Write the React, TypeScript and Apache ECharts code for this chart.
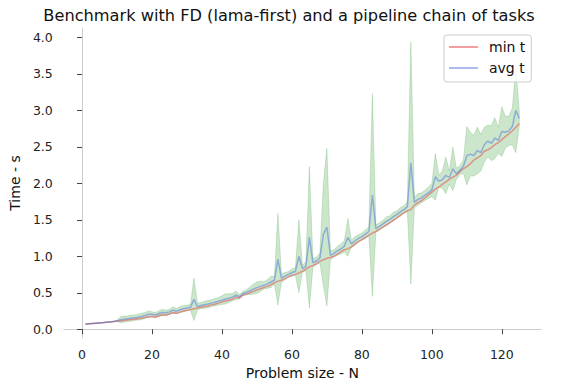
import React, { useEffect, useRef } from "react";
import * as echarts from "echarts";

const TITLE = "Benchmark with FD (lama-first) and a pipeline chain of tasks";
const X_LABEL = "Problem size - N";
const Y_LABEL = "Time - s";
const X_TICKS = [0, 20, 40, 60, 80, 100, 120];
const Y_TICKS = [0, 0.5, 1, 1.5, 2, 2.5, 3, 3.5, 4];

// problem sizes 1..125
const sizes: number[] = Array.from({ length: 125 }, (_, i) => i + 1);

const minT = [
  0.070, 0.074, 0.078, 0.082, 0.086, 0.090, 0.095, 0.100, 0.105, 0.110,
  0.115, 0.120, 0.126, 0.132, 0.138, 0.144, 0.150, 0.160, 0.172, 0.175,
  0.165, 0.188, 0.200, 0.196, 0.210, 0.230, 0.218, 0.238, 0.250, 0.260,
  0.272, 0.282, 0.290, 0.302, 0.312, 0.320, 0.334, 0.344, 0.358, 0.372,
  0.386, 0.398, 0.412, 0.440, 0.428, 0.468, 0.482, 0.500, 0.520, 0.540,
  0.556, 0.572, 0.588, 0.610, 0.635, 0.660, 0.672, 0.695, 0.718, 0.740,
  0.752, 0.772, 0.795, 0.825, 0.855, 0.872, 0.898, 0.930, 0.952, 0.972,
  0.984, 1.000, 1.030, 1.060, 1.090, 1.102, 1.130, 1.168, 1.200, 1.230,
  1.258, 1.290, 1.318, 1.340, 1.370, 1.400, 1.430, 1.460, 1.495, 1.528,
  1.565, 1.595, 1.625, 1.640, 1.700, 1.735, 1.760, 1.800, 1.840, 1.880,
  1.920, 1.950, 1.985, 2.020, 2.055, 2.085, 2.110, 2.160, 2.200, 2.230,
  2.270, 2.320, 2.350, 2.380, 2.440, 2.460, 2.490, 2.530, 2.560, 2.600,
  2.640, 2.680, 2.720, 2.770, 2.820,
];

const avgT = [
  0.071, 0.075, 0.079, 0.083, 0.087, 0.091, 0.096, 0.101, 0.106, 0.115,
  0.130, 0.138, 0.145, 0.152, 0.158, 0.166, 0.175, 0.188, 0.205, 0.205,
  0.195, 0.215, 0.230, 0.225, 0.238, 0.262, 0.248, 0.268, 0.282, 0.292,
  0.300, 0.410, 0.310, 0.325, 0.335, 0.345, 0.358, 0.370, 0.384, 0.398,
  0.415, 0.425, 0.440, 0.466, 0.445, 0.490, 0.505, 0.528, 0.550, 0.570,
  0.588, 0.602, 0.622, 0.648, 0.672, 0.960, 0.702, 0.728, 0.752, 0.778,
  0.792, 1.000, 0.832, 0.862, 1.260, 0.912, 0.936, 0.976, 1.300, 1.400,
  1.012, 1.040, 1.075, 1.100, 1.140, 1.260, 1.170, 1.210, 1.245, 1.270,
  1.305, 1.340, 1.840, 1.380, 1.410, 1.445, 1.480, 1.505, 1.545, 1.575,
  1.610, 1.640, 1.680, 2.280, 1.740, 1.780, 1.800, 1.835, 1.870, 1.910,
  2.090, 2.030, 2.050, 2.110, 2.080, 2.200, 2.130, 2.180, 2.230, 2.380,
  2.400, 2.380, 2.450, 2.420, 2.530, 2.580, 2.550, 2.620, 2.590, 2.710,
  2.700, 2.720, 2.780, 3.000, 2.890,
];

// half-width of the shaded band around avg t
const stdT = [
  0.002, 0.002, 0.002, 0.002, 0.002, 0.002, 0.002, 0.002, 0.003, 0.006,
  0.040, 0.042, 0.038, 0.042, 0.038, 0.040, 0.045, 0.040, 0.045, 0.035,
  0.035, 0.040, 0.045, 0.035, 0.035, 0.045, 0.035, 0.045, 0.045, 0.040,
  0.040, 0.290, 0.050, 0.040, 0.050, 0.050, 0.045, 0.050, 0.050, 0.060,
  0.070, 0.060, 0.050, 0.060, 0.030, 0.030, 0.035, 0.050, 0.070, 0.080,
  0.070, 0.050, 0.060, 0.080, 0.050, 0.630, 0.060, 0.050, 0.040, 0.050,
  0.050, 0.500, 0.050, 0.060, 0.970, 0.060, 0.050, 0.070, 0.700, 1.080,
  0.060, 0.050, 0.060, 0.070, 0.080, 0.260, 0.050, 0.060, 0.050, 0.050,
  0.060, 0.060, 1.390, 0.050, 0.050, 0.050, 0.060, 0.050, 0.060, 0.050,
  0.060, 0.050, 0.070, 1.660, 0.070, 0.080, 0.070, 0.070, 0.080, 0.090,
  0.320, 0.080, 0.120, 0.250, 0.090, 0.300, 0.080, 0.060, 0.090, 0.400,
  0.300, 0.280, 0.320, 0.250, 0.240, 0.220, 0.240, 0.280, 0.180, 0.340,
  0.220, 0.200, 0.250, 0.580, 0.100,
];

const FONT = "DejaVu Sans";
const RED = "rgba(232,64,64,0.5)";
const BLUE = "rgba(65,105,225,0.45)";

export default function App() {
  const ref = useRef<HTMLDivElement>(null);

  useEffect(() => {
    if (!ref.current) return;
    const chart = echarts.init(ref.current, null, { renderer: "svg" });

    const bandData = sizes.map((n, i) => [n, avgT[i] - stdT[i], avgT[i] + stdT[i]]);
    const minData = sizes.map((n, i) => [n, minT[i]]);
    const avgData = sizes.map((n, i) => [n, avgT[i]]);

    chart.setOption({
      animation: false,
      backgroundColor: "#ffffff",
      grid: { left: 61, right: 22, top: 28, bottom: 52, containLabel: false },
      graphic: [
        {
          type: "text",
          x: 289,
          y: 15,
          style: {
            text: TITLE,
            font: `16.2px '${FONT}'`,
            fill: "#111111",
            textAlign: "center",
            textVerticalAlign: "middle",
          },
        },
      ],
      legend: {
        data: ["min t", "avg t"],
        orient: "vertical",
        left: 444,
        top: 35,
        padding: [5, 6, 7, 5],
        icon: "rect",
        itemWidth: 29,
        itemHeight: 2,
        itemGap: 7,
        backgroundColor: "rgba(255,255,255,0.85)",
        borderColor: "#cccccc",
        borderWidth: 1,
        borderRadius: 3,
        textStyle: {
          fontFamily: FONT,
          fontSize: 14,
          lineHeight: 14,
          color: "#111111",
          padding: [0, 0, 0, 6],
        },
      },
      xAxis: {
        type: "value",
        min: -5.2,
        max: 131.2,
        name: X_LABEL,
        nameLocation: "middle",
        nameGap: 28,
        nameTextStyle: { fontFamily: FONT, fontSize: 14, color: "#111111" },
        splitLine: { show: false },
        axisLine: { show: true, lineStyle: { color: "#cccccc", width: 1 } },
        axisTick: {
          show: true,
          length: 5,
          lineStyle: { color: "#444444" },
          customValues: X_TICKS,
        },
        axisLabel: {
          fontFamily: FONT,
          fontSize: 12.5,
          color: "#222222",
          margin: 10,
          customValues: X_TICKS,
          formatter: (v: number) => String(v),
        },
      },
      yAxis: {
        type: "value",
        min: -0.12,
        max: 4.13,
        name: Y_LABEL,
        nameLocation: "middle",
        nameGap: 37,
        nameRotate: 90,
        nameTextStyle: { fontFamily: FONT, fontSize: 14, color: "#111111" },
        splitLine: { show: false },
        axisLine: { show: true, lineStyle: { color: "#cccccc", width: 1 } },
        axisTick: {
          show: true,
          length: 5,
          lineStyle: { color: "#444444" },
          customValues: Y_TICKS,
        },
        axisLabel: {
          fontFamily: FONT,
          fontSize: 12.5,
          color: "#222222",
          margin: 11,
          customValues: Y_TICKS,
          formatter: (v: number) => v.toFixed(1),
        },
      },
      series: [
        {
          name: "band",
          type: "custom",
          data: bandData,
          encode: { x: 0, y: [1, 2] },
          silent: true,
          z: 1,
          renderItem: (params: any, api: any) => {
            if (params.dataIndex !== 0) return null;
            const upper = bandData.map((d) => api.coord([d[0], d[2]]));
            const lower = bandData.map((d) => api.coord([d[0], d[1]])).reverse();
            return {
              type: "polygon",
              shape: { points: upper.concat(lower) },
              style: {
                fill: "rgba(0,128,0,0.2)",
                stroke: "rgba(0,128,0,0.16)",
                lineWidth: 1,
              },
            };
          },
        },
        {
          name: "min t",
          type: "line",
          data: minData,
          symbol: "none",
          color: RED,
          lineStyle: { color: RED, width: 1.5 },
          z: 3,
        },
        {
          name: "avg t",
          type: "line",
          data: avgData,
          symbol: "none",
          color: BLUE,
          lineStyle: { color: BLUE, width: 1.5 },
          z: 4,
        },
      ],
    });

    return () => chart.dispose();
  }, []);

  return (
    <div
      ref={ref}
      style={{ position: "fixed", left: 0, top: 0, width: 563, height: 390 }}
    />
  );
}
